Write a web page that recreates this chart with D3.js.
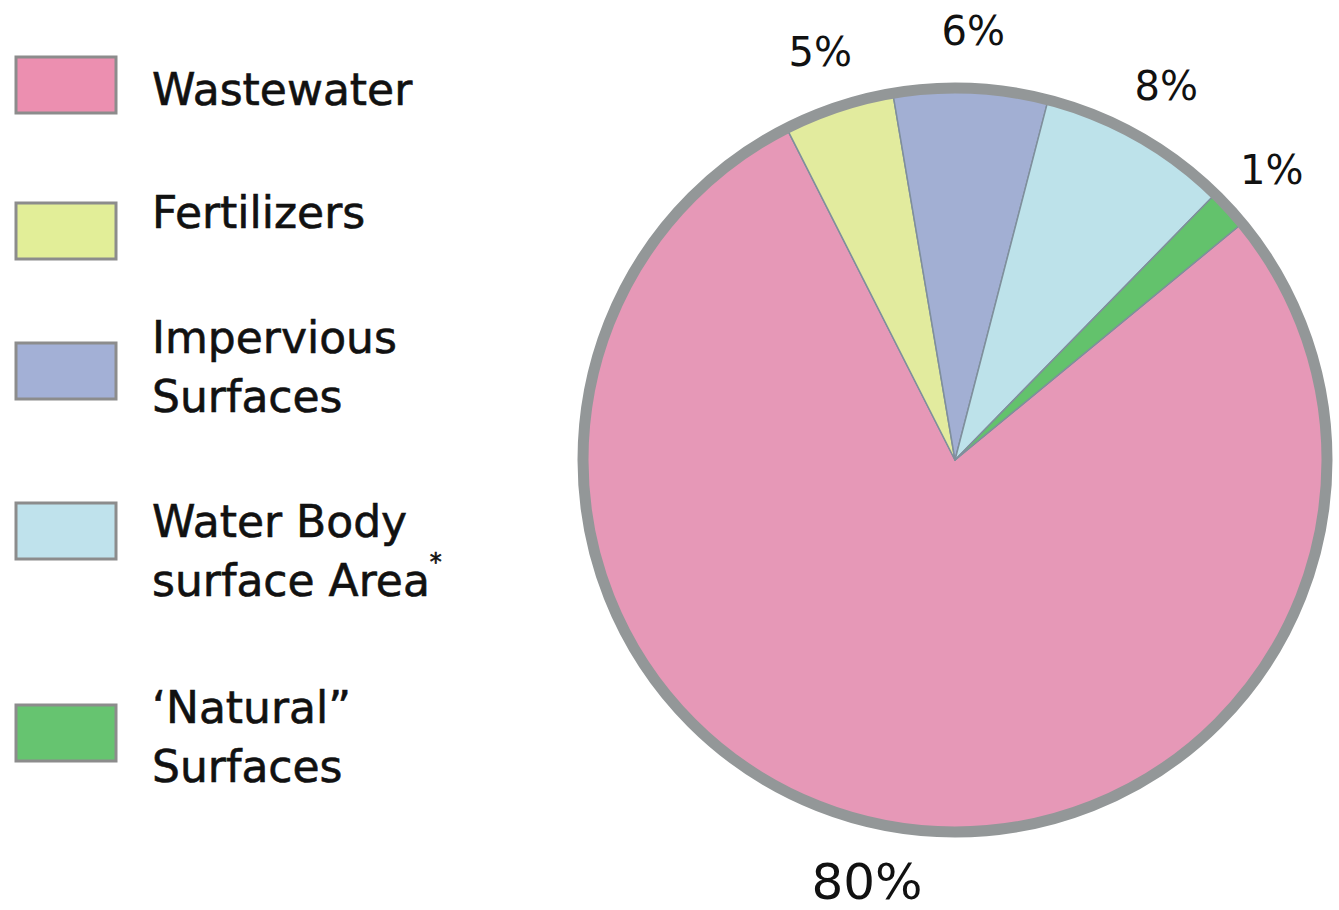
<!DOCTYPE html>
<html>
<head>
<meta charset="utf-8">
<script src="https://cdn.jsdelivr.net/npm/d3@7"></script>
<style>
  body { margin: 0; background: #fff; }
  svg { display: block; }
</style>
</head>
<body>
<svg id="chart"></svg>
<script>
// Sources, in legend order
const categories = ["Wastewater", "Fertilizers", "Impervious Surfaces", "Water Body surface Area", "Natural Surfaces"];
// legend lines as printed
const legendLines = [["Wastewater"], ["Fertilizers"], ["Impervious", "Surfaces"], ["Water Body", "surface Area"], ["\u2018Natural\u201D", "Surfaces"]];
// slice shares as drawn in the picture (the printed labels are rounded differently)
const sliceShare = [78.5, 4.8, 6.7, 8.3, 1.7];
const pctLabels = ["80%", "5%", "6%", "8%", "1%"];
const colors = ["#e698b7", "#e2eb9e", "#a2afd3", "#bde2ea", "#63c26c"];
const swatchColors = ["#ec8fb0", "#e2ee98", "#a3b0d6", "#bfe2ec", "#66c470"];

const width = 1339;
const height = 910;

const svg = d3.select("#chart")
    .attr("width", width)
    .attr("height", height);

// Pie
const cx = 955, cy = 460, r = 371;
const startDeg = 50.5;

const pie = d3.pie()
    .sort(null)
    .value(d => d)
    .startAngle(startDeg * Math.PI / 180)
    .endAngle(startDeg * Math.PI / 180 + 2 * Math.PI);

const arcs = pie(sliceShare);

const arc = d3.arc().innerRadius(0).outerRadius(r);
const labelArc = d3.arc().innerRadius(430).outerRadius(430);

const g = svg.append("g")
    .attr("transform", `translate(${cx},${cy})`);

g.selectAll("path.slice")
    .data(arcs)
    .join("path")
    .attr("class", "slice")
    .attr("d", arc)
    .attr("fill", (d, i) => colors[i])
    .attr("stroke", "#7f8f9c")
    .attr("stroke-width", 1.5)
    .attr("stroke-linejoin", "round");

// grey rim
g.append("circle")
    .attr("r", r + 1)
    .attr("fill", "none")
    .attr("stroke", "#939798")
    .attr("stroke-width", 11);

// percent labels
g.selectAll("text.pct")
    .data(arcs)
    .join("text")
    .attr("class", "pct")
    .attr("x", d => labelArc.centroid(d)[0])
    .attr("y", d => labelArc.centroid(d)[1])
    .attr("text-anchor", "middle")
    .attr("dy", "0.36em")
    .attr("font-family", "DejaVu Sans, Verdana, sans-serif")
    .attr("font-size", (d, i) => i === 0 ? 50 : 40)
    .attr("fill", "#111")
    .text((d, i) => pctLabels[i]);

// Legend
const swatchY = [57, 203, 343, 503, 705];
const legend = svg.append("g");

legend.selectAll("rect")
    .data(categories)
    .join("rect")
    .attr("x", 16)
    .attr("y", (d, i) => swatchY[i])
    .attr("width", 100)
    .attr("height", 56)
    .attr("fill", (d, i) => swatchColors[i])
    .attr("stroke", "#8c8c8c")
    .attr("stroke-width", 3);

const firstBaseline = [105, 228, 353, 537, 723];
const lineGap = 59;

legend.selectAll("text")
    .data(categories)
    .join("text")
    .attr("font-family", "DejaVu Sans, Verdana, sans-serif")
    .attr("font-size", 44)
    .attr("fill", "#111")
    .attr("stroke", "#111")
    .attr("stroke-width", 0.6)
    .each(function (d, i) {
        const t = d3.select(this);
        legendLines[i].forEach((line, j) => {
            t.append("tspan")
                .attr("x", 152)
                .attr("y", firstBaseline[i] + j * lineGap)
                .text(line);
        });
        if (i === 3) {
            t.append("tspan")
                .attr("font-size", 24)
                .attr("dy", -26)
                .text("*");
        }
    });
</script>
</body>
</html>
